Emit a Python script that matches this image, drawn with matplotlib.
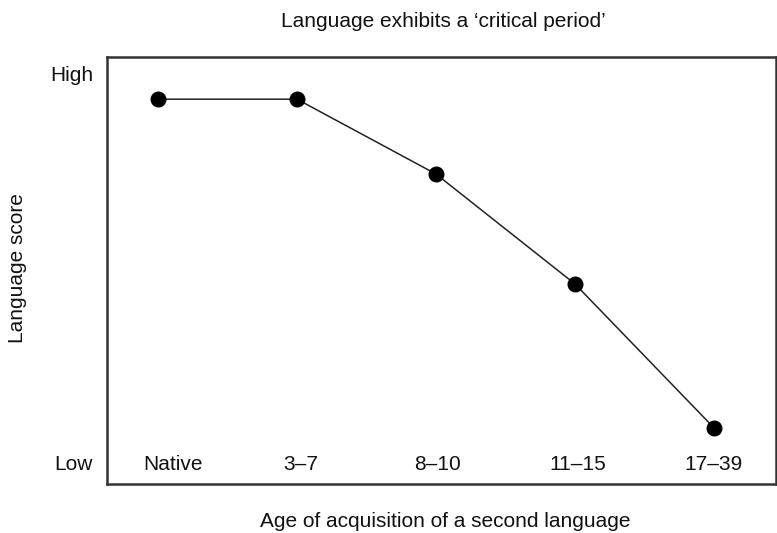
import matplotlib
matplotlib.use("Agg")
import matplotlib.pyplot as plt

categories = ["Native", "3\u20137", "8\u201310", "11\u201315", "17\u201339"]
scores = [0.938, 0.938, 0.746, 0.464, 0.095]
label_offsets = [0.11, 0.03, 0.01, 0.02, 0.0]

plt.rcParams['font.family'] = ['Liberation Sans', 'DejaVu Sans']
FS = 15

fig = plt.figure(figsize=(7.77, 5.33), dpi=100)
ax = fig.add_axes([0.1377, 0.0919, 0.8610, 0.8010])

x = list(range(len(categories)))
ax.plot(x, scores, color='#222222', lw=1.1, marker='o', markersize=10.5,
        markerfacecolor='black', markeredgecolor='black', zorder=3)

ax.set_xlim(-0.367, 4.446)
ax.set_ylim(-0.049, 1.046)
ax.set_xticks([])
ax.set_yticks([])
for s in ax.spines.values():
    s.set_linewidth(1.8)
    s.set_color('#333333')

for xi, lab, off in zip(x, categories, label_offsets):
    ax.text(xi + off, 0.0, lab, ha='center', va='center', fontsize=FS, color='#111111')

ax.text(-0.468, 1.0, "High", ha='right', va='center', fontsize=FS, color='#111111')
ax.text(-0.468, 0.0, "Low", ha='right', va='center', fontsize=FS, color='#111111')

fig.text(0.571, 0.959, "Language exhibits a \u2018critical period\u2019", ha='center', va='center',
         fontsize=FS, color='#111111')
fig.text(0.573, 0.021, "Age of acquisition of a second language", ha='center', va='center',
         fontsize=FS, color='#111111')
fig.text(0.022, 0.497, "Language score", ha='center', va='center', rotation=90,
         fontsize=FS, color='#111111')

fig.savefig("out.png", dpi=100)
